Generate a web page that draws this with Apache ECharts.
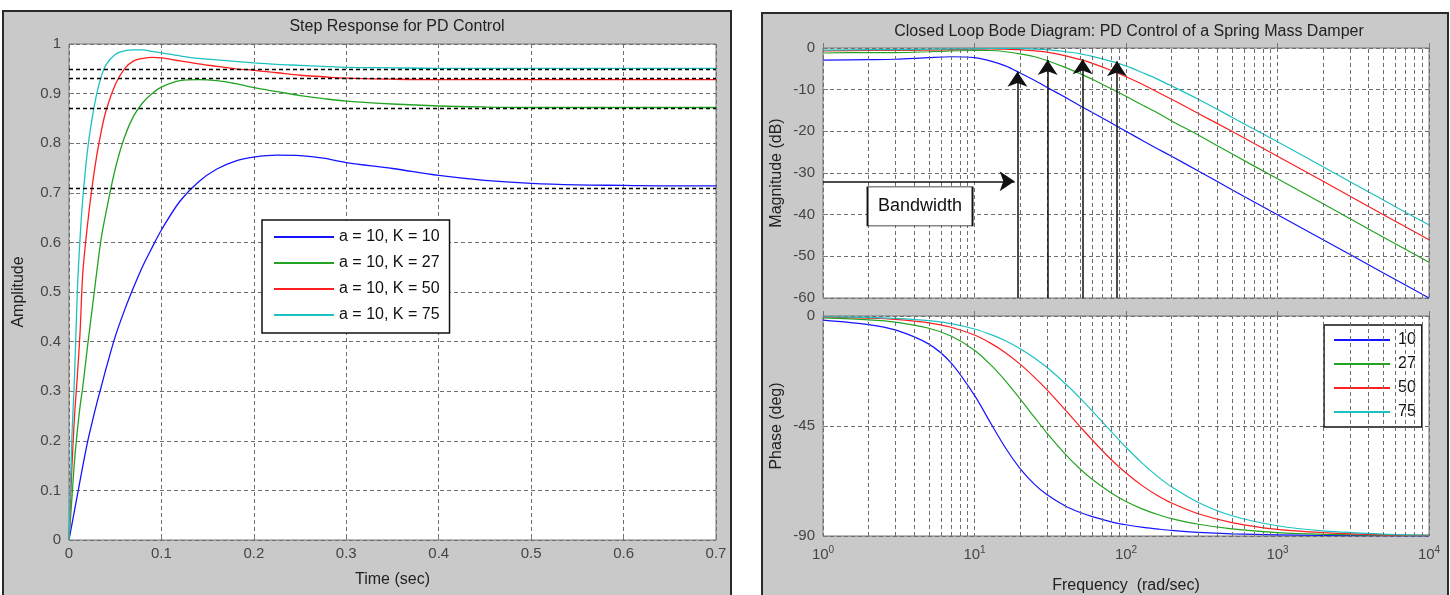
<!DOCTYPE html>
<html>
<head>
<meta charset="utf-8">
<title>PD Control of a Spring Mass Damper</title>
<script src="https://cdn.jsdelivr.net/npm/echarts@6/dist/echarts.min.js"></script>
<style>
html, body { margin: 0; padding: 0; background: #fff; }
#main { width: 1450px; height: 595px; }
</style>
</head>
<body>
<div id="main"></div>
<script>
// step response, a = 10
var stepTime = [0, 0.003, 0.006, 0.009, 0.012, 0.015, 0.02, 0.025, 0.03, 0.035, 0.04, 0.05, 0.06, 0.07, 0.08, 0.09, 0.1,
    0.12, 0.14, 0.16, 0.18, 0.2, 0.225, 0.25, 0.275, 0.3, 0.35, 0.4, 0.45, 0.5, 0.55, 0.6, 0.65, 0.7];
var stepK10 = [0, 0.03, 0.06, 0.09, 0.12, 0.15, 0.197, 0.237, 0.275, 0.31, 0.345, 0.41, 0.463, 0.51, 0.553, 0.59, 0.625,
    0.683, 0.722, 0.748, 0.764, 0.772, 0.776, 0.775, 0.77, 0.761, 0.749, 0.735, 0.725, 0.719, 0.716, 0.715, 0.714, 0.714];
var stepK27 = [0, 0.08, 0.16, 0.22, 0.27, 0.31, 0.39, 0.465, 0.54, 0.61, 0.66, 0.748, 0.812, 0.855, 0.882, 0.9, 0.913,
    0.926, 0.928, 0.926, 0.92, 0.912, 0.904, 0.896, 0.89, 0.885, 0.879, 0.875, 0.873, 0.872, 0.872, 0.872, 0.872, 0.872];
var stepK50 = [0, 0.14, 0.25, 0.33, 0.42, 0.54, 0.635, 0.712, 0.775, 0.825, 0.865, 0.918, 0.95, 0.966, 0.971, 0.973, 0.972,
    0.966, 0.96, 0.955, 0.95, 0.947, 0.942, 0.937, 0.934, 0.931, 0.929, 0.928, 0.928, 0.928, 0.928, 0.928, 0.928, 0.928];
var stepK75 = [0, 0.2, 0.33, 0.5, 0.61, 0.69, 0.785, 0.85, 0.9, 0.935, 0.958, 0.979, 0.986, 0.988, 0.988, 0.985, 0.982,
    0.976, 0.971, 0.968, 0.965, 0.962, 0.959, 0.957, 0.955, 0.953, 0.952, 0.951, 0.951, 0.951, 0.951, 0.951, 0.951, 0.951];
var steadyLevels = [0.951, 0.928, 0.872, 0.714];

// closed loop bode
var bodeFreq = [1, 2, 3, 5, 7, 10, 13, 16, 20, 25, 30, 40, 50, 60, 80, 100, 130, 160, 200, 300, 500, 1000, 2000, 5000, 10000];
var magK10 = [-2.9, -2.8, -2.7, -2.3, -2.1, -2.3, -3.2, -4.3, -6.0, -7.8, -9.4, -11.9, -13.9, -15.5, -18.0, -20.0,
    -22.3, -24.1, -26.0, -29.5, -34.0, -40.0, -46.0, -54.0, -60.0];
var magK27 = [-1.2, -1.1, -1.1, -0.9, -0.7, -0.6, -0.6, -0.9, -1.4, -2.1, -3.0, -4.7, -6.2, -7.5, -9.8, -11.6,
    -13.8, -15.5, -17.5, -20.9, -25.4, -31.4, -37.4, -45.4, -51.4];
var magK50 = [-0.7, -0.6, -0.6, -0.5, -0.4, -0.3, -0.2, -0.3, -0.4, -0.7, -1.0, -1.9, -2.8, -3.7, -5.4, -6.9,
    -8.8, -10.5, -12.3, -15.7, -20.0, -26.0, -32.0, -40.0, -46.0];
var magK75 = [-0.5, -0.4, -0.4, -0.3, -0.2, -0.2, -0.1, -0.1, -0.1, -0.3, -0.4, -0.9, -1.4, -2.0, -3.2, -4.3,
    -6.0, -7.4, -9.1, -12.3, -16.6, -22.5, -28.5, -36.5, -42.5];
var phaseK10 = [-1.7, -3.5, -5.7, -11.5, -19.2, -32.5, -44.6, -53.9, -62.4, -69.0, -73.0, -77.8, -80.4, -82.1, -84.2, -85.4,
    -86.5, -87.1, -87.7, -88.5, -89.1, -89.5, -89.8, -89.9, -90.0];
var phaseK27 = [-0.8, -1.6, -2.5, -5.0, -8.2, -14.0, -20.4, -26.5, -33.9, -41.6, -47.8, -56.7, -62.7, -66.9, -72.4, -75.9,
    -79.1, -81.1, -82.9, -85.2, -87.1, -88.6, -89.3, -89.7, -89.9];
var phaseK50 = [-0.4, -0.9, -1.4, -2.8, -4.6, -7.8, -11.4, -15.0, -19.7, -25.2, -30.1, -38.6, -45.4, -50.8, -58.8, -64.2,
    -69.7, -73.3, -76.5, -80.9, -84.5, -87.3, -88.6, -89.5, -89.7];
var phaseK75 = [-0.3, -0.6, -1.0, -1.9, -3.1, -5.3, -7.7, -10.1, -13.4, -17.3, -21.0, -27.8, -33.7, -38.9, -47.3, -53.7,
    -60.6, -65.4, -69.9, -76.3, -81.7, -85.8, -87.9, -89.2, -89.6];

// minor log grid and bandwidth annotation
var minorFreq = [2, 3, 4, 5, 6, 7, 8, 9, 20, 30, 40, 50, 60, 70, 80, 90,
    200, 300, 400, 500, 600, 700, 800, 900, 2000, 3000, 4000, 5000, 6000, 7000, 8000, 9000];
var bwFreq = [19.2, 30.4, 51.7, 87.1];
var bwTip = [-5.7, -2.9, -2.7, -3.2];
var bwLevel = -32;
var bwArrowEnd = 18.4;

var gains = ['10', '27', '50', '75'];
var colors = ['#1414ff', '#22a422', '#ff1e1e', '#1cc2c2'];
var font = "'Liberation Sans', Arial, Helvetica, sans-serif";

var chart = echarts.init(document.getElementById('main'));

function pairs(xs, ys) {
    return xs.map(function (x, i) { return [x, ys[i]]; });
}

var gridLine = { show: true, lineStyle: { color: '#6e6e6e', type: [4, 3], width: 1 } };
var tickLabel = { color: '#454545', fontSize: 15, fontFamily: font };
var nameStyle = { color: '#222', fontSize: 16, fontFamily: font };

var stepData = [stepK10, stepK27, stepK50, stepK75];
var magData = [magK10, magK27, magK50, magK75];
var phaseData = [phaseK10, phaseK27, phaseK50, phaseK75];

var series = [];

// grid helpers drawn first so they sit under the curves
series.push({
    type: 'line', xAxisIndex: 0, yAxisIndex: 0, data: [], silent: true,
    markLine: {
        silent: true, symbol: 'none', label: { show: false }, animation: false,
        lineStyle: { color: '#000', type: [4, 3], width: 1.3 },
        data: steadyLevels.map(function (v) { return { yAxis: v }; })
    }
});
[1, 2].forEach(function (idx) {
    series.push({
        type: 'line', xAxisIndex: idx, yAxisIndex: idx, data: [], silent: true,
        markLine: {
            silent: true, symbol: 'none', label: { show: false }, animation: false,
            lineStyle: { color: '#6e6e6e', type: [4, 3], width: 1 },
            data: minorFreq.map(function (f) { return { xAxis: f }; })
        }
    });
});

gains.forEach(function (g, i) {
    series.push({
        name: 'a = 10, K = ' + g, type: 'line', xAxisIndex: 0, yAxisIndex: 0,
        data: pairs(stepTime, stepData[i]), symbol: 'none', smooth: 0.35,
        lineStyle: { color: colors[i], width: 1.3 }, itemStyle: { color: colors[i] }
    });
});

gains.forEach(function (g, i) {
    var s = {
        name: g, type: 'line', xAxisIndex: 1, yAxisIndex: 1,
        data: pairs(bodeFreq, magData[i]), symbol: 'none', smooth: 0.3,
        lineStyle: { color: colors[i], width: 1.2 }, itemStyle: { color: colors[i] }
    };
    if (i === 0) {
        s.markPoint = {
            silent: true, animation: false,
            data: [{
                coord: [4.37, -38], symbol: 'rect', symbolSize: [105, 39],
                itemStyle: { color: '#fff', borderColor: '#111', borderWidth: 1.2 },
                label: { show: true, position: 'inside', formatter: 'Bandwidth', color: '#111', fontSize: 18, fontFamily: font }
            }]
        };
    }
    if (i === 1) {
        var arrows = bwFreq.map(function (f, k) {
            return [{ coord: [f, -60] }, { coord: [f, bwTip[k]] }];
        });
        arrows.push([{ coord: [1, bwLevel] }, { coord: [bwArrowEnd, bwLevel] }]);
        s.markLine = {
            silent: true, animation: false, symbol: ['none', 'arrow'], symbolSize: 15,
            label: { show: false },
            lineStyle: { color: '#111', type: 'solid', width: 1.5 },
            data: arrows
        };
    }
    series.push(s);
});

gains.forEach(function (g, i) {
    series.push({
        name: g, type: 'line', xAxisIndex: 2, yAxisIndex: 2,
        data: pairs(bodeFreq, phaseData[i]), symbol: 'none', smooth: 0.3,
        lineStyle: { color: colors[i], width: 1.2 }, itemStyle: { color: colors[i] }
    });
});

var option = {
    animation: false,
    backgroundColor: '#fff',
    textStyle: { fontFamily: font },
    graphic: [
        { type: 'rect', z: -10, shape: { x: 3, y: 11, width: 728, height: 600 },
          style: { fill: '#c9c9c9', stroke: '#2a2a2a', lineWidth: 2 } },
        { type: 'rect', z: -10, shape: { x: 762, y: 13, width: 686, height: 600 },
          style: { fill: '#c9c9c9', stroke: '#2a2a2a', lineWidth: 2 } }
    ],
    title: [
        { text: 'Step Response for PD Control', left: 392, top: 14, textAlign: 'center',
          textStyle: { fontSize: 16, fontWeight: 'normal', color: '#222', fontFamily: font } },
        { text: 'Closed Loop Bode Diagram: PD Control of a Spring Mass Damper', left: 1124, top: 19, textAlign: 'center',
          textStyle: { fontSize: 16, fontWeight: 'normal', color: '#222', fontFamily: font } }
    ],
    legend: [
        {
            data: gains.map(function (g) { return 'a = 10, K = ' + g; }),
            left: 262, top: 220, orient: 'vertical', selectedMode: false,
            icon: 'rect', itemWidth: 60, itemHeight: 2, itemGap: 10, padding: [9, 10, 10, 12],
            backgroundColor: '#fff', borderColor: '#111', borderWidth: 1.5, borderRadius: 0,
            textStyle: { fontSize: 16, color: '#111', fontFamily: font }
        },
        {
            data: gains, left: 1324, top: 325, orient: 'vertical', selectedMode: false,
            icon: 'rect', itemWidth: 56, itemHeight: 2, itemGap: 8, padding: [7, 6, 7, 10],
            backgroundColor: '#fff', borderColor: '#111', borderWidth: 1.5, borderRadius: 0,
            textStyle: { fontSize: 16, color: '#111', fontFamily: font, padding: [0, 0, 0, 3] }
        }
    ],
    grid: [
        { left: 69, top: 44, width: 647, height: 496, show: true, backgroundColor: '#fff', borderColor: '#777', borderWidth: 1 },
        { left: 823, top: 48, width: 606, height: 250, show: true, backgroundColor: '#fff', borderColor: '#777', borderWidth: 1 },
        { left: 823, top: 316, width: 606, height: 220, show: true, backgroundColor: '#fff', borderColor: '#777', borderWidth: 1 }
    ],
    xAxis: [
        {
            type: 'value', gridIndex: 0, min: 0, max: 0.7, interval: 0.1,
            name: 'Time (sec)', nameLocation: 'middle', nameGap: 32, nameTextStyle: nameStyle,
            axisLine: { show: false }, axisTick: { inside: true, length: 5, lineStyle: { color: '#777' } },
            axisLabel: Object.assign({ margin: 6 }, tickLabel), splitLine: gridLine
        },
        {
            type: 'log', logBase: 10, gridIndex: 1, min: 1, max: 10000,
            axisLine: { show: false }, axisTick: { inside: true, length: 5, lineStyle: { color: '#777' } },
            axisLabel: { show: false }, splitLine: gridLine
        },
        {
            type: 'log', logBase: 10, gridIndex: 2, min: 1, max: 10000,
            name: 'Frequency  (rad/sec)', nameLocation: 'middle', nameGap: 42, nameTextStyle: nameStyle,
            axisLine: { show: false }, axisTick: { inside: true, length: 5, lineStyle: { color: '#777' } },
            axisLabel: {
                margin: 9,
                formatter: function (v) {
                    return '{b|10}{s|' + Math.round(Math.log10(v)) + '}';
                },
                rich: {
                    b: { color: '#454545', fontSize: 15, fontFamily: font, lineHeight: 20 },
                    s: { color: '#454545', fontSize: 10, fontFamily: font, verticalAlign: 'top', lineHeight: 10 }
                }
            },
            splitLine: gridLine
        }
    ],
    yAxis: [
        {
            type: 'value', gridIndex: 0, min: 0, max: 1, interval: 0.1,
            name: 'Amplitude', nameLocation: 'middle', nameGap: 42, nameRotate: 90, nameTextStyle: nameStyle,
            axisLine: { show: false }, axisTick: { inside: true, length: 5, lineStyle: { color: '#777' } },
            axisLabel: Object.assign({ margin: 8 }, tickLabel), splitLine: gridLine
        },
        {
            type: 'value', gridIndex: 1, min: -60, max: 0, interval: 10,
            name: 'Magnitude (dB)', nameLocation: 'middle', nameGap: 38, nameRotate: 90, nameTextStyle: nameStyle,
            axisLine: { show: false }, axisTick: { inside: true, length: 5, lineStyle: { color: '#777' } },
            axisLabel: Object.assign({ margin: 8 }, tickLabel), splitLine: gridLine
        },
        {
            type: 'value', gridIndex: 2, min: -90, max: 0, interval: 45,
            name: 'Phase (deg)', nameLocation: 'middle', nameGap: 38, nameRotate: 90, nameTextStyle: nameStyle,
            axisLine: { show: false }, axisTick: { inside: true, length: 5, lineStyle: { color: '#777' } },
            axisLabel: Object.assign({ margin: 8 }, tickLabel), splitLine: gridLine
        }
    ],
    series: series
};

chart.setOption(option);
</script>
</body>
</html>
